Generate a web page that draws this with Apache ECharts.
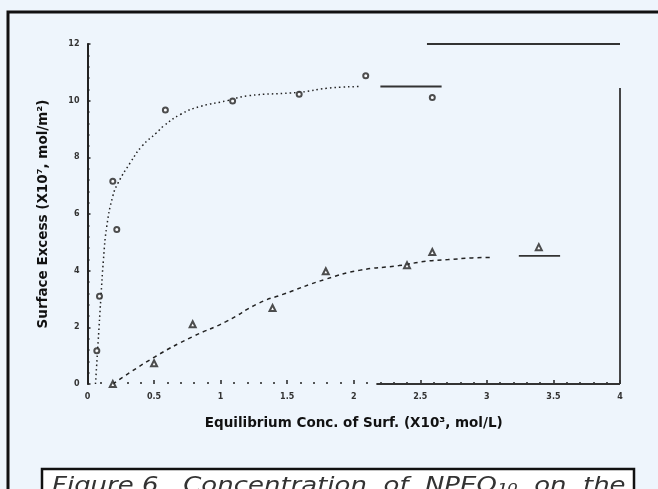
<!DOCTYPE html>
<html>
<head>
<meta charset="utf-8">
<script src="https://cdn.jsdelivr.net/npm/echarts@6/dist/echarts.min.js"></script>
<style>
  html, body { margin: 0; padding: 0; background: #eef5fc; }
  #chart { width: 658px; height: 489px; }
</style>
</head>
<body>
<div id="chart"></div>
<script>
// tick labels
var xTicks = ['0', '0.5', '1', '1.5', '2', '2.5', '3', '3.5', '4'];
var yTicks = ['0', '2', '4', '6', '8', '10', '12'];

// upper isotherm: measured points and drawn curve
var upperPoints = [[0.07, 1.17], [0.09, 3.1], [0.22, 5.45], [0.19, 7.16], [0.585, 9.67],
  [1.09, 9.99], [1.59, 10.23], [2.09, 10.88], [2.59, 10.11]];
var upperCurve = [[0.06, 0], [0.08, 1.5], [0.1, 3.0], [0.12, 4.4], [0.145, 5.57], [0.19, 6.63],
  [0.23, 7.1], [0.32, 7.8], [0.41, 8.4], [0.52, 8.87], [0.57, 9.1], [0.7, 9.52], [0.85, 9.8],
  [1.05, 10.0], [1.2, 10.17], [1.6, 10.3], [1.8, 10.44], [2.05, 10.5]];
var upperPlateau = [[2.2, 10.5], [2.66, 10.5]];

// lower isotherm
var lowerPoints = [[0.19, 0], [0.5, 0.73], [0.79, 2.11], [1.39, 2.68], [1.79, 3.98],
  [2.4, 4.19], [2.59, 4.66], [3.39, 4.83]];
var lowerCurve = [[0.19, 0], [0.51, 0.97], [0.79, 1.67], [1.04, 2.2], [1.29, 2.86], [1.46, 3.15],
  [1.79, 3.7], [2.04, 4.01], [2.34, 4.18], [2.54, 4.33], [2.71, 4.39], [2.89, 4.45], [3.05, 4.47]];
var lowerPlateau = [[3.24, 4.52], [3.55, 4.52]];

// pieces of the plot frame that survived in the scan
var topRule = [[2.55, 12], [4, 12]];
var rightRule = [[4, 0], [4, 10.45]];
var baseRule = [[2.17, 0], [4, 0]];

var myChart = echarts.init(document.getElementById('chart'));

var labelFont = 'DejaVu Sans';

var option = {
  backgroundColor: '#eef5fc',
  animation: false,
  grid: { left: 87.5, right: 38, top: 44, bottom: 105 },
  xAxis: {
    type: 'value', min: 0, max: 4, interval: 0.5,
    name: 'Equilibrium Conc. of Surf. (X10³, mol/L)',
    nameLocation: 'middle', nameGap: 32,
    nameTextStyle: { fontFamily: labelFont, fontWeight: 'bold', fontSize: 13.5, color: '#111' },
    axisLine: { show: false },
    axisTick: { show: true, length: 4, inside: true, lineStyle: { color: '#222', width: 1.5 } },
    minorTick: { show: true, splitNumber: 5, length: 2, lineStyle: { color: '#222', width: 1.5 } },
    splitLine: { show: false },
    axisLabel: {
      margin: 9, fontSize: 8, fontWeight: 'bold', color: '#333', fontFamily: labelFont,
      formatter: function (v) { return xTicks[Math.round(v / 0.5)]; }
    }
  },
  yAxis: {
    type: 'value', min: 0, max: 12, interval: 2,
    name: 'Surface Excess (X10⁷, mol/m²)',
    nameLocation: 'middle', nameGap: 37, nameRotate: 90,
    nameTextStyle: { fontFamily: labelFont, fontWeight: 'bold', fontSize: 13.5, color: '#111' },
    axisLine: { show: true, lineStyle: { color: '#222', width: 2 } },
    axisTick: { show: true, length: 3, inside: true, lineStyle: { color: '#222', width: 1.5 } },
    minorTick: { show: true, splitNumber: 5, length: 2, lineStyle: { color: '#222', width: 1.5 } },
    splitLine: { show: false },
    axisLabel: {
      margin: 8, fontSize: 8, fontWeight: 'bold', color: '#333', fontFamily: labelFont,
      formatter: function (v) { return yTicks[Math.round(v / 2)]; }
    }
  },
  series: [
    {
      type: 'line', data: upperCurve, smooth: true, symbol: 'none',
      lineStyle: { color: '#222', width: 1.5, type: [1.5, 3] }
    },
    {
      type: 'line', data: upperPlateau, symbol: 'none',
      lineStyle: { color: '#333', width: 1.8 }
    },
    {
      type: 'scatter', data: upperPoints, symbol: 'emptyCircle', symbolSize: 5, z: 5,
      itemStyle: { color: '#222', borderColor: '#222', borderWidth: 1.5 }
    },
    {
      type: 'line', data: lowerCurve, smooth: true, symbol: 'none',
      lineStyle: { color: '#222', width: 1.5, type: [4, 4] }
    },
    {
      type: 'line', data: lowerPlateau, symbol: 'none',
      lineStyle: { color: '#333', width: 1.8 }
    },
    {
      type: 'scatter', data: lowerPoints, symbol: 'emptyTriangle', symbolSize: 6, z: 5,
      itemStyle: { color: '#222', borderColor: '#222', borderWidth: 1.5 }
    },
    {
      type: 'line', data: topRule, symbol: 'none', lineStyle: { color: '#333', width: 1.8 }
    },
    {
      type: 'line', data: rightRule, symbol: 'none', lineStyle: { color: '#333', width: 1.8 }
    },
    {
      type: 'line', data: baseRule, symbol: 'none', lineStyle: { color: '#333', width: 1.8 }
    }
  ],
  graphic: [
    {
      type: 'rect', silent: true, z: 100,
      shape: { x: 8, y: 12, width: 700, height: 520 },
      style: { fill: 'none', stroke: '#111', lineWidth: 3 }
    },
    {
      type: 'rect', silent: true, z: 101,
      shape: { x: 42, y: 469, width: 592, height: 40 },
      style: { fill: '#ffffff', stroke: '#111', lineWidth: 2.5 }
    },
    {
      type: 'text', silent: true, z: 102, x: 52, y: 475, scaleX: 1.18,
      style: {
        text: 'Figure 6.  Concentration  of  NPEO\u2081\u2080  on  the',
        font: 'italic 22px "DejaVu Sans"', fill: '#333'
      }
    }
  ]
};
myChart.setOption(option);
</script>
</body>
</html>
